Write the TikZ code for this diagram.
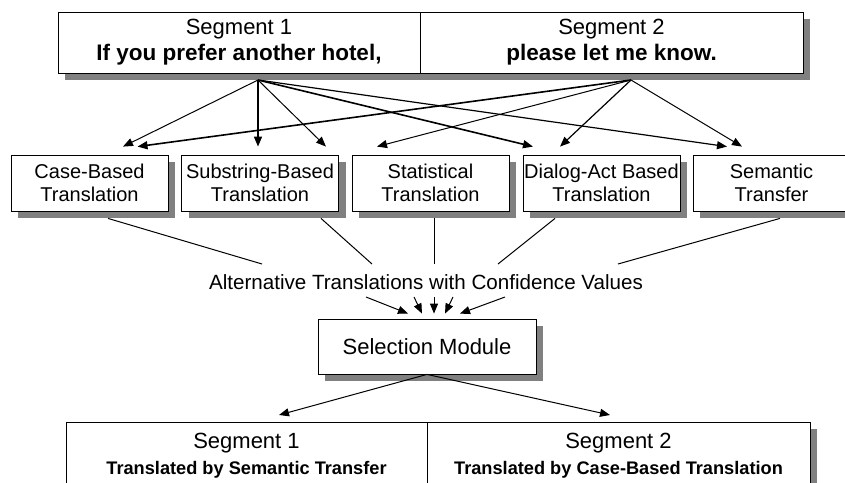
\documentclass[tikz,border=0pt]{standalone}
\usepackage{fontspec}
\setmainfont{Liberation Sans}
\usetikzlibrary{shadows}
\usetikzlibrary{positioning}
\usetikzlibrary{arrows.meta}

\begin{document}
\begin{tikzpicture}
[x=1pt,y=-1pt,
box/.style={draw=black,fill=white,line width=0.8pt,align=center,inner sep=0pt,
  drop shadow={shadow xshift=7pt,shadow yshift=-7pt,fill=gray,opacity=1}},
seg/.style={box,minimum height=61pt,font=\fontsize{22}{26}\selectfont},
trans/.style={box,minimum width=157pt,minimum height=56pt,font=\fontsize{20}{23}\selectfont},
arr/.style={-{Triangle[length=10pt,width=8pt]},line width=1pt},
thk/.style={arr,line width=1.6pt},
conn/.style={line width=1pt}]
\useasboundingbox (0,0) rectangle (845,482);
\clip (0,0) rectangle (845,482);

% source segments
\node[seg,minimum width=362pt] (seg1) at (239,42.5) {Segment 1\\\fontsize{22.5}{26}\selectfont\bfseries If you prefer another hotel,};
\node[seg,minimum width=383pt] (seg2) at (611.5,42.5) {Segment 2\\\fontsize{22.5}{26}\selectfont\bfseries please let me know.};
\coordinate (src1) at (258,80);
\coordinate (src2) at (631,80);

% translation modules
\node[trans] (case) at (89.5,183) {Case-Based\\Translation};
\node[trans] (substr) at (260,183) {Substring-Based\\Translation};
\node[trans] (stat) at (430.5,183) {Statistical\\Translation};
\node[trans] (dialog) at (601.5,183) {Dialog-Act Based\\Translation};
\node[trans] (sem) at (771.5,183) {Semantic\\Transfer};

\draw [arr] (src1) -- ([xshift=33.5pt,yshift=8pt]case.north);
\draw [thk] (src1) -- ([xshift=-2pt,yshift=8pt]substr.north);
\draw [arr] (src1) -- ([xshift=66pt,yshift=8pt]substr.north);
\draw [thk] (src1) -- ([xshift=-68.5pt,yshift=8pt]dialog.north);
\draw [arr,line width=1.2pt] (src1) -- ([xshift=-44.5pt,yshift=8pt]sem.north);

\draw [thk] (src2) -- ([xshift=48pt,yshift=8pt]case.north);
\draw [arr] (src2) -- ([xshift=-53.5pt,yshift=8pt]stat.north);
\draw [arr,line width=1.2pt] (src2) -- ([xshift=-41.5pt,yshift=8pt]dialog.north);
\draw [arr] (src2) -- ([xshift=-29.5pt,yshift=8pt]sem.north);

% alternatives
\node[font=\fontsize{20.6}{24}\selectfont] (alt) at (426,282) {Alternative Translations with Confidence Values};

\draw [conn] ([xshift=18.5pt,yshift=-7pt]case.south) -- ([xshift=-164pt,yshift=18pt]alt.center);
\draw [conn] ([xshift=61pt,yshift=-7pt]substr.south) -- ([xshift=-54pt,yshift=18pt]alt.center);
\draw [conn] ([xshift=3.5pt,yshift=-7pt]stat.south) -- ([xshift=8pt,yshift=18pt]alt.center);
\draw [conn] ([xshift=-46.5pt,yshift=-7pt]dialog.south) -- ([xshift=72pt,yshift=18pt]alt.center);
\draw [conn] ([xshift=8.5pt,yshift=-7pt]sem.south) -- ([xshift=192pt,yshift=18pt]alt.center);

% selection
\node[box,minimum width=218pt,minimum height=55pt,font=\fontsize{22}{26}\selectfont] (sel) at (427,346.5) {Selection Module};

\draw [arr] ([xshift=-60pt,yshift=-15pt]alt.center) -- ([xshift=-19pt,yshift=5pt]sel.north);
\draw [arr] ([xshift=-12pt,yshift=-15pt]alt.center) -- ([xshift=-5pt,yshift=5pt]sel.north);
\draw [arr] ([xshift=8pt,yshift=-15pt]alt.center) -- ([xshift=7pt,yshift=5pt]sel.north);
\draw [arr] ([xshift=27pt,yshift=-15pt]alt.center) -- ([xshift=18pt,yshift=5pt]sel.north);
\draw [arr] ([xshift=79pt,yshift=-15pt]alt.center) -- ([xshift=33pt,yshift=5pt]sel.north);

% output segments
\node[seg,minimum width=361pt,minimum height=66pt,anchor=north] (out1) at (246.5,422) {Segment 1\\\fontsize{18.2}{24}\selectfont\bfseries Translated by Semantic Transfer};
\node[seg,minimum width=383pt,minimum height=66pt,anchor=north] (out2) at (618.5,422) {Segment 2\\\fontsize{18.2}{24}\selectfont\bfseries Translated by Case-Based Translation};

\draw [arr] (sel.south) -- ([xshift=32.5pt,yshift=7pt]out1.north);
\draw [arr] (sel.south) -- ([xshift=-8.5pt,yshift=7pt]out2.north);
\end{tikzpicture}
\end{document}
